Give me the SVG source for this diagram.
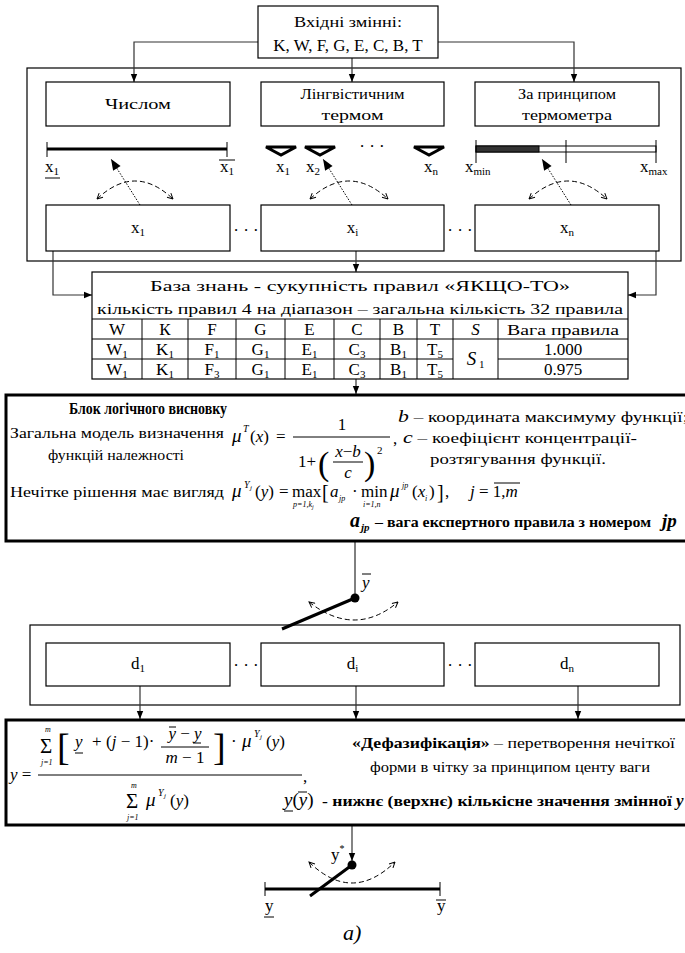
<svg xmlns="http://www.w3.org/2000/svg" width="685" height="953" viewBox="0 0 685 953">
<defs>
<style>
.b{fill:#fff;stroke:#000;stroke-width:1.2}
.fr{fill:none;stroke:#000;stroke-width:1.2}
.blk{fill:#fff;stroke:#000;stroke-width:3}
.t{font-family:"Liberation Serif","Noto Serif","DejaVu Serif Condensed","DejaVu Serif",serif;font-size:17px;fill:#000}
.cy{font-size:15px}
.m{text-anchor:middle}
.i{font-style:italic}
.bd{font-weight:bold}
.cn{fill:none;stroke:#333;stroke-width:1.2}
.ln{stroke:#000;stroke-width:1;fill:none}
.th{stroke:#000;stroke-width:3;fill:none}
.da{fill:none;stroke:#000;stroke-width:1;stroke-dasharray:5 3}
.dt{fill:none;stroke:#000;stroke-width:1;stroke-dasharray:1.5 1.5}
.tri{fill:#fff;stroke:#000;stroke-width:3;stroke-linejoin:miter}
</style>
<marker id="ah" viewBox="0 0 10 10" refX="10" refY="5" markerWidth="10" markerHeight="8" markerUnits="userSpaceOnUse" orient="auto"><path d="M0,1 L10,5 L0,9 z" fill="#000"/></marker>
<marker id="ap" viewBox="0 0 10 10" refX="10" refY="5" markerWidth="12" markerHeight="11" markerUnits="userSpaceOnUse" orient="auto"><path d="M0,1 L10,5 L0,9 z" fill="#000"/></marker>
<marker id="ao" viewBox="0 0 10 10" refX="9" refY="5" markerWidth="7" markerHeight="7" markerUnits="userSpaceOnUse" orient="auto-start-reverse"><path d="M1,1 L9,5 L1,9" fill="none" stroke="#000" stroke-width="1.4"/></marker>
</defs>
<rect width="685" height="953" fill="#fff"/>

<g id="frame-inputs"><rect class="fr" x="27" y="68" width="654" height="193"/></g>
<g id="frame-outputs"><rect class="fr" x="30" y="625" width="650" height="80"/></g>

<g id="connectors">
<path class="cn" d="M258,42 H134 V82" marker-end="url(#ah)"/>
<path class="cn" d="M438,42 H574 V82" marker-end="url(#ah)"/>
<path class="cn" d="M352,58 V82" marker-end="url(#ah)"/>
<path class="cn" d="M53,251 V295 H92" marker-end="url(#ah)"/>
<path class="cn" d="M656,251 V295 H628" marker-end="url(#ah)"/>
<path class="cn" d="M356,251 V272" marker-end="url(#ah)"/>
<path class="cn" d="M356,379 V394" marker-end="url(#ah)"/>
<path class="cn" d="M140,686 V719" marker-end="url(#ah)"/>
<path class="cn" d="M356,686 V719" marker-end="url(#ah)"/>
<path class="cn" d="M578,686 V719" marker-end="url(#ah)"/>
<path class="cn" d="M352,825 V861" marker-end="url(#ah)"/>
</g>

<g id="inputs">
<rect class="b" x="258" y="6" width="180" height="52"/>
<text class="t cy m" x="348" y="27" textLength="108" lengthAdjust="spacingAndGlyphs">Вхідні змінні:</text>
<text class="t m" x="348" y="51">K, W, F, G, E, C, B, T</text>
</g>

<g id="by-number">
<rect class="b" x="46" y="82" width="184" height="44"/>
<text class="t cy m" x="138" y="109" textLength="66" lengthAdjust="spacingAndGlyphs">Числом</text>
</g>
<g id="by-term">
<rect class="b" x="261" y="82" width="183" height="44"/>
<text class="t cy m" x="352.5" y="99" textLength="104" lengthAdjust="spacingAndGlyphs">Лінгвістичним</text>
<text class="t cy m" x="352.5" y="120" textLength="62" lengthAdjust="spacingAndGlyphs">термом</text>
</g>
<g id="by-thermometer">
<rect class="b" x="475" y="82" width="184" height="44"/>
<text class="t cy m" x="567" y="99" textLength="98" lengthAdjust="spacingAndGlyphs">За принципом</text>
<text class="t cy m" x="567" y="120" textLength="90" lengthAdjust="spacingAndGlyphs">термометра</text>
</g>

<g id="scale-number">
<line class="th" x1="47" y1="149" x2="227" y2="149"/>
<line class="ln" x1="47" y1="142" x2="47" y2="157"/>
<line class="ln" x1="227" y1="142" x2="227" y2="157"/>
<text class="t" x="45" y="172">x<tspan style="font-size:11px" dy="3">1</tspan></text>
<line class="ln" x1="45" y1="178" x2="60" y2="178"/>
<text class="t" x="220" y="172">x<tspan style="font-size:11px" dy="3">1</tspan></text>
<line class="ln" x1="219" y1="160" x2="235" y2="160"/>
</g>
<g id="scale-term">
<polygon class="tri" points="266,147 296,147 281,155"/>
<polygon class="tri" points="305,147 335,147 320,155"/>
<polygon class="tri" points="414,147 444,147 429,155"/>
<text class="t m" x="372" y="152">· · ·</text>
<text class="t" x="276" y="172">x<tspan style="font-size:11px" dy="3">1</tspan></text>
<text class="t" x="306" y="172">x<tspan style="font-size:11px" dy="3">2</tspan></text>
<text class="t" x="424" y="172">x<tspan style="font-size:11px" dy="3">n</tspan></text>
</g>
<g id="scale-thermometer">
<rect x="476" y="146" width="180" height="6" fill="#fff" stroke="#000" stroke-width="1"/>
<rect x="476" y="146" width="63" height="6" fill="#333" stroke="#000" stroke-width="1"/>
<line class="ln" x1="476" y1="140" x2="476" y2="163"/>
<line class="ln" x1="566" y1="140" x2="566" y2="163"/>
<line class="ln" x1="656" y1="140" x2="656" y2="163"/>
<text class="t" x="465" y="172">x<tspan style="font-size:11px" dy="3">min</tspan></text>
<text class="t" x="640" y="172">x<tspan style="font-size:11px" dy="3">max</tspan></text>
</g>

<g id="selectors">
<line class="dt" x1="140" y1="205" x2="111" y2="159" marker-end="url(#ap)"/>
<line class="dt" x1="352" y1="205" x2="323" y2="159" marker-end="url(#ap)"/>
<line class="dt" x1="571" y1="205" x2="542" y2="159" marker-end="url(#ap)"/>
<path class="da" d="M97,199 Q135,163 173,199" marker-start="url(#ao)" marker-end="url(#ao)"/>
<path class="da" d="M310,199 Q349,163 388,199" marker-start="url(#ao)" marker-end="url(#ao)"/>
<path class="da" d="M529,199 Q568,163 607,199" marker-start="url(#ao)" marker-end="url(#ao)"/>
</g>

<g id="x1">
<rect class="b" x="46" y="205" width="184" height="46"/>
<text class="t m" x="138" y="233">x<tspan style="font-size:11px" dy="3">1</tspan></text>
</g>
<g id="xi">
<rect class="b" x="261" y="205" width="183" height="46"/>
<text class="t m" x="352.5" y="233">x<tspan style="font-size:11px" dy="3">i</tspan></text>
</g>
<g id="xn">
<rect class="b" x="475" y="205" width="184" height="46"/>
<text class="t m" x="567" y="233">x<tspan style="font-size:11px" dy="3">n</tspan></text>
</g>
<text class="t m" x="246" y="236">· · ·</text>
<text class="t m" x="460" y="236">· · ·</text>

<g id="knowledge-base">
<rect class="b" x="92" y="272" width="536" height="107"/>
<text class="t cy m" x="360" y="291" textLength="420" lengthAdjust="spacingAndGlyphs">База знань - сукупність правил «ЯКЩО-ТО»</text>
<text class="t cy m" x="360" y="314" textLength="526" lengthAdjust="spacingAndGlyphs">кількість правил 4 на діапазон – загальна кількість 32 правила</text>
<line class="ln" x1="92" y1="319" x2="628" y2="319"/>
<line class="ln" x1="92" y1="339" x2="628" y2="339"/>
<line class="ln" x1="92" y1="359" x2="453" y2="359"/>
<line class="ln" x1="498" y1="359" x2="628" y2="359"/>
<path class="ln" d="M142,319V379M188,319V379M236,319V379M285,319V379M334,319V379M380,319V379M417,319V379M453,319V379M498,319V379"/>
<text class="t m" x="117" y="335">W</text>
<text class="t m" x="165" y="335">К</text>
<text class="t m" x="212" y="335">F</text>
<text class="t m" x="260.5" y="335">G</text>
<text class="t m" x="309.5" y="335">E</text>
<text class="t m" x="357" y="335">C</text>
<text class="t m" x="398.5" y="335">B</text>
<text class="t m" x="435" y="335">T</text>
<text class="t m i" x="475.5" y="335">S</text>
<text class="t cy m" x="563" y="335" textLength="112" lengthAdjust="spacingAndGlyphs">Вага правила</text>
<text class="t m" x="117" y="355">W<tspan style="font-size:11px" dy="3">1</tspan></text>
<text class="t m" x="165" y="355">K<tspan style="font-size:11px" dy="3">1</tspan></text>
<text class="t m" x="212" y="355">F<tspan style="font-size:11px" dy="3">1</tspan></text>
<text class="t m" x="260.5" y="355">G<tspan style="font-size:11px" dy="3">1</tspan></text>
<text class="t m" x="309.5" y="355">E<tspan style="font-size:11px" dy="3">1</tspan></text>
<text class="t m" x="357" y="355">C<tspan style="font-size:11px" dy="3">3</tspan></text>
<text class="t m" x="398.5" y="355">B<tspan style="font-size:11px" dy="3">1</tspan></text>
<text class="t m" x="435" y="355">T<tspan style="font-size:11px" dy="3">5</tspan></text>
<text class="t m" x="563" y="355">1.000</text>
<text class="t m" x="117" y="375">W<tspan style="font-size:11px" dy="3">1</tspan></text>
<text class="t m" x="165" y="375">K<tspan style="font-size:11px" dy="3">1</tspan></text>
<text class="t m" x="212" y="375">F<tspan style="font-size:11px" dy="3">3</tspan></text>
<text class="t m" x="260.5" y="375">G<tspan style="font-size:11px" dy="3">1</tspan></text>
<text class="t m" x="309.5" y="375">E<tspan style="font-size:11px" dy="3">1</tspan></text>
<text class="t m" x="357" y="375">C<tspan style="font-size:11px" dy="3">3</tspan></text>
<text class="t m" x="398.5" y="375">B<tspan style="font-size:11px" dy="3">1</tspan></text>
<text class="t m" x="435" y="375">T<tspan style="font-size:11px" dy="3">5</tspan></text>
<text class="t m" x="563" y="375">0.975</text>
<text class="t m" x="475.5" y="365"><tspan class="i" style="font-size:19px">S</tspan><tspan style="font-size:11px" dy="3"> 1</tspan></text>
</g>

<g id="inference-block">
<rect class="blk" x="6" y="395" width="700" height="146"/>
<text class="t bd" x="69" y="414" style="font-size:16px" textLength="158" lengthAdjust="spacingAndGlyphs">Блок логічного висновку</text>
<text class="t cy" x="10" y="438" textLength="214" lengthAdjust="spacingAndGlyphs">Загальна модель визначення</text>
<text class="t cy" x="48" y="460" textLength="136" lengthAdjust="spacingAndGlyphs">функцій належності</text>
<text class="t i" x="232" y="442" style="font-size:19px">μ</text>
<text class="t i" x="243" y="432" style="font-size:10px">T</text>
<text class="t" x="250" y="442">(<tspan class="i">x</tspan>)</text>
<text class="t" x="276" y="442">=</text>
<line class="ln" x1="293" y1="437" x2="390" y2="437"/>
<text class="t m" x="342" y="430">1</text>
<text class="t" x="298" y="467">1+</text>
<text class="t" x="318" y="475" style="font-size:34px">(</text>
<text class="t m" x="348" y="457"><tspan class="i">x</tspan>−<tspan class="i">b</tspan></text>
<line class="ln" x1="333" y1="462" x2="363" y2="462"/>
<text class="t m i" x="348" y="478">c</text>
<text class="t" x="364" y="475" style="font-size:34px">)</text>
<text class="t" x="377" y="454" style="font-size:11px">2</text>
<text class="t" x="393" y="444">,</text>
<text class="t cy" x="398" y="422" textLength="290" lengthAdjust="spacingAndGlyphs"><tspan class="i" style="font-size:17px">b</tspan> – координата максимуму функції;</text>
<text class="t cy" x="403" y="443" textLength="234" lengthAdjust="spacingAndGlyphs"><tspan class="i" style="font-size:17px">c</tspan> – коефіцієнт концентрації-</text>
<text class="t cy" x="430" y="464" textLength="176" lengthAdjust="spacingAndGlyphs">розтягування функції.</text>
<text class="t cy" x="10" y="497" textLength="214" lengthAdjust="spacingAndGlyphs">Нечітке рішення має вигляд</text>
<text class="t i" x="232" y="497" style="font-size:19px">μ</text>
<text class="t i" x="244" y="488" style="font-size:10px">Y</text>
<text class="t i" x="250" y="490" style="font-size:7px">j</text>
<text class="t" x="255" y="497">(<tspan class="i">y</tspan>)</text>
<text class="t" x="279" y="497">=</text>
<text class="t" x="292" y="497">max</text>
<text class="t i" x="293" y="507" style="font-size:8px">p=1,k<tspan style="font-size:6px" dy="2">j</tspan></text>
<text class="t" x="322" y="499" style="font-size:20px">[</text>
<text class="t i" x="330" y="497">a</text>
<text class="t i" x="339" y="501" style="font-size:8px">jp</text>
<text class="t" x="352" y="497">·</text>
<text class="t" x="361" y="497">min</text>
<text class="t i" x="363" y="507" style="font-size:8px">i=1,n</text>
<text class="t i" x="390" y="497" style="font-size:19px">μ</text>
<text class="t i" x="402" y="488" style="font-size:8px">jp</text>
<text class="t" x="412" y="497">(<tspan class="i">x</tspan></text>
<text class="t i" x="425" y="501" style="font-size:8px">i</text>
<text class="t" x="429" y="497">)</text>
<text class="t" x="437" y="499" style="font-size:20px">]</text>
<text class="t" x="445" y="497">,</text>
<text class="t" x="470" y="497"><tspan class="i">j</tspan> = 1,<tspan class="i">m</tspan></text>
<line class="ln" x1="494" y1="483" x2="520" y2="483"/>
<text class="t bd i" x="350" y="527" style="font-size:20px">a</text>
<text class="t bd i" x="361" y="531" style="font-size:11px">jp</text>
<text class="t bd" x="375" y="527" style="font-size:15px" textLength="276" lengthAdjust="spacingAndGlyphs">– вага експертного правила з номером</text>
<text class="t bd i" x="662" y="527" style="font-size:19px">jp</text>
</g>

<g id="switch-upper">
<line class="ln" x1="355" y1="541" x2="355" y2="598" stroke="#333"/>
<text class="t i" x="362" y="588">y</text>
<line class="ln" x1="362" y1="574" x2="371" y2="574"/>
<circle cx="355" cy="598" r="4.5" fill="#000"/>
<line class="th" x1="355" y1="598" x2="282" y2="629"/>
<path class="da" d="M309,602 Q355,638 398,602" marker-start="url(#ao)" marker-end="url(#ao)"/>
</g>

<g id="d1">
<rect class="b" x="46" y="643" width="184" height="43"/>
<text class="t m" x="138" y="669">d<tspan style="font-size:11px" dy="3">1</tspan></text>
</g>
<g id="di">
<rect class="b" x="261" y="643" width="183" height="43"/>
<text class="t m" x="352.5" y="669">d<tspan style="font-size:11px" dy="3">i</tspan></text>
</g>
<g id="dn">
<rect class="b" x="475" y="643" width="184" height="43"/>
<text class="t m" x="567" y="669">d<tspan style="font-size:11px" dy="3">n</tspan></text>
</g>
<text class="t m" x="246" y="671">· · ·</text>
<text class="t m" x="460" y="671">· · ·</text>

<g id="defuzzification">
<rect class="blk" x="6" y="720" width="700" height="105"/>
<text class="t" x="10" y="780"><tspan class="i">y</tspan> =</text>
<line class="ln" x1="38" y1="775" x2="302" y2="775"/>
<text class="t" x="40" y="753" style="font-size:21px">Σ</text>
<text class="t i" x="45" y="732" style="font-size:8px">m</text>
<text class="t i" x="41" y="765" style="font-size:8px">j=1</text>
<text class="t" x="57" y="760" style="font-size:38px">[</text>
<text class="t i" x="75" y="747">y</text>
<line class="ln" x1="75" y1="753" x2="83" y2="753"/>
<text class="t" x="92" y="747">+</text>
<text class="t" x="106" y="747">(<tspan class="i">j</tspan> − 1)·</text>
<text class="t m" x="185" y="739"><tspan class="i">y</tspan> − <tspan class="i">y</tspan></text>
<line class="ln" x1="169" y1="727" x2="176" y2="727"/>
<line class="ln" x1="193" y1="743" x2="201" y2="743"/>
<line class="ln" x1="161" y1="747" x2="209" y2="747"/>
<text class="t m" x="185" y="763"><tspan class="i">m</tspan> − 1</text>
<text class="t" x="213" y="760" style="font-size:38px">]</text>
<text class="t" x="231" y="747">·</text>
<text class="t i" x="242" y="747" style="font-size:19px">μ</text>
<text class="t i" x="254" y="737" style="font-size:10px">Y</text>
<text class="t i" x="260" y="739" style="font-size:7px">j</text>
<text class="t" x="266" y="747">(<tspan class="i">y</tspan>)</text>
<text class="t" x="126" y="808" style="font-size:21px">Σ</text>
<text class="t i" x="131" y="788" style="font-size:8px">m</text>
<text class="t i" x="127" y="820" style="font-size:8px">j=1</text>
<text class="t i" x="146" y="806" style="font-size:19px">μ</text>
<text class="t i" x="158" y="796" style="font-size:10px">Y</text>
<text class="t i" x="164" y="798" style="font-size:7px">j</text>
<text class="t" x="170" y="806">(<tspan class="i">y</tspan>)</text>
<text class="t" x="303" y="782">,</text>
<text class="t cy" x="352" y="748" textLength="323" lengthAdjust="spacingAndGlyphs"><tspan class="bd">«Дефазифікація»</tspan> – перетворення нечіткої</text>
<text class="t cy" x="370" y="772" textLength="280" lengthAdjust="spacingAndGlyphs">форми в чітку за принципом центу ваги</text>
<text class="t" x="284" y="806" style="font-size:19px"><tspan class="i">y</tspan>(<tspan class="i">y</tspan>)</text>
<line class="ln" x1="284" y1="811" x2="293" y2="811"/>
<line class="ln" x1="298" y1="792" x2="307" y2="792"/>
<text class="t cy bd" x="322" y="806" textLength="350" lengthAdjust="spacingAndGlyphs">- нижнє (верхнє) кількісне значення змінної</text>
<text class="t bd i" x="676" y="806">y</text>
</g>

<g id="switch-output">
<text class="t" x="331" y="860">y<tspan style="font-size:10px" dy="-8">*</tspan></text>
<circle cx="352" cy="865" r="4.5" fill="#000"/>
<line class="th" x1="352" y1="865" x2="310" y2="896"/>
<path class="da" d="M309,862 Q352,904 395,862" marker-start="url(#ao)" marker-end="url(#ao)"/>
<line class="th" x1="265" y1="889" x2="440" y2="889"/>
<line class="ln" x1="265" y1="882" x2="265" y2="896"/>
<line class="ln" x1="440" y1="882" x2="440" y2="896"/>
<text class="t" x="265" y="911">y</text>
<line class="ln" x1="264" y1="917" x2="274" y2="917"/>
<text class="t" x="437" y="911">y</text>
<line class="ln" x1="436" y1="900" x2="446" y2="900"/>
</g>

<text class="t i" x="343" y="940" style="font-size:22px">a)</text>
</svg>
